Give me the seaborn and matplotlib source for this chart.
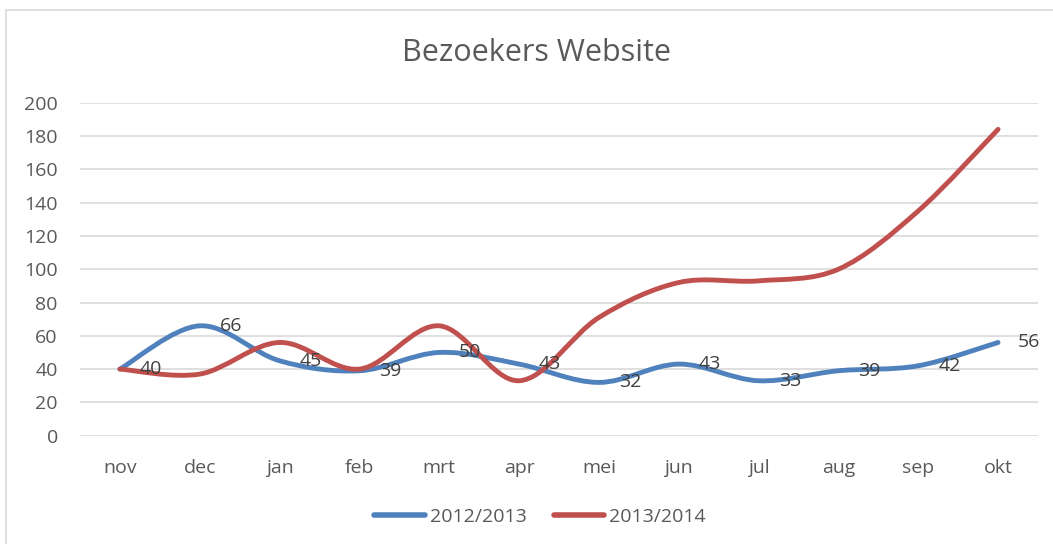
import numpy as np
import pandas as pd
import matplotlib
matplotlib.use('Agg')
import matplotlib.pyplot as plt
import seaborn as sns
from matplotlib.path import Path
from matplotlib.patches import PathPatch, Rectangle

# data
maanden = ['nov', 'dec', 'jan', 'feb', 'mrt', 'apr', 'mei', 'jun', 'jul', 'aug', 'sep', 'okt']
bezoekers_2012 = [40, 66, 45, 39, 50, 43, 32, 43, 33, 39, 42, 56]
bezoekers_2013 = [40, 37, 56, 40, 66, 33, 71, 92, 93, 100, 135, 184]
seizoenen = ['2012/2013', '2013/2014']
kleuren = ['#4f81bd', '#c0504d']

df = pd.concat([
    pd.DataFrame({'maand': maanden, 'bezoekers': bezoekers_2012, 'seizoen': seizoenen[0]}),
    pd.DataFrame({'maand': maanden, 'bezoekers': bezoekers_2013, 'seizoen': seizoenen[1]}),
])

sns.set_theme(style='white')
plt.rcParams['font.family'] = ['Open Sans', 'DejaVu Sans']
tekstkleur = '#595959'

fig = plt.figure(figsize=(10.53, 5.44), dpi=100)
ax = fig.add_axes([80 / 1053, 1 - 435.7 / 544, 958 / 1053, 333 / 544])

ax = sns.lineplot(data=df, x='maand', y='bezoekers', hue='seizoen',
                  palette=kleuren, linewidth=3.5, sort=False, ax=ax, legend=False)


def smooth_path(xs, ys):
    # Excel-like smoothed line: cubic bezier through the points
    pts = np.column_stack([xs, ys]).astype(float)
    n = len(pts)
    verts = [pts[0]]
    codes = [Path.MOVETO]
    for i in range(n - 1):
        p0 = pts[i - 1] if i > 0 else pts[i]
        p1 = pts[i]
        p2 = pts[i + 1]
        p3 = pts[i + 2] if i + 2 < n else pts[i + 1]
        c1 = p1 + (p2 - p0) / 6
        c2 = p2 - (p3 - p1) / 6
        verts += [c1, c2, p2]
        codes += [Path.CURVE4] * 3
    return Path(verts, codes)


# replace the straight seaborn lines with smoothed ones
for line, kleur in zip(ax.lines, kleuren):
    xs, ys = line.get_xdata(), line.get_ydata()
    line.set_visible(False)
    ax.add_patch(PathPatch(smooth_path(xs, ys), facecolor='none', edgecolor=kleur,
                           linewidth=3.5, capstyle='round', joinstyle='round', zorder=3))

# data labels of 2012/2013
for i, v in enumerate(bezoekers_2012):
    ax.annotate(str(v), (i, v), xytext=(20, 0), textcoords='offset pixels',
                ha='left', va='center', fontsize=14, color='#404040', zorder=4)

ax.set_xlim(-0.5, len(maanden) - 0.5)
ax.set_ylim(0, 200)
ax.set_yticks(range(0, 201, 20))
ax.yaxis.grid(True, color='#d9d9d9', linewidth=1.2)
ax.xaxis.grid(False)
for s in ax.spines.values():
    s.set_visible(False)
ax.tick_params(axis='both', length=0, labelsize=14, labelcolor=tekstkleur)
ax.tick_params(axis='y', pad=16)
ax.tick_params(axis='x', pad=17)
ax.set_xlabel('')
ax.set_ylabel('')

fig.text(536 / 1053, 1 - 53 / 544, 'Bezoekers Website', ha='center', va='center',
         fontsize=22, color=tekstkleur)

handles = [plt.Line2D([], [], color=k, linewidth=4, solid_capstyle='round') for k in kleuren]
fig.legend(handles, seizoenen, loc='center', bbox_to_anchor=(540 / 1053, 1 - 517 / 544),
           ncol=2, frameon=False, fontsize=14, labelcolor=tekstkleur,
           handlelength=2.6, handletextpad=0.25, columnspacing=1.4)

# chart area border
fig.patches.append(Rectangle((6 / 1053, -0.1), 1.2, 1 - 10 / 544 + 0.1, transform=fig.transFigure,
                             fill=False, edgecolor='#d9d9d9', linewidth=1.2))

plt.savefig('out.png', dpi=100)
plt.close()
